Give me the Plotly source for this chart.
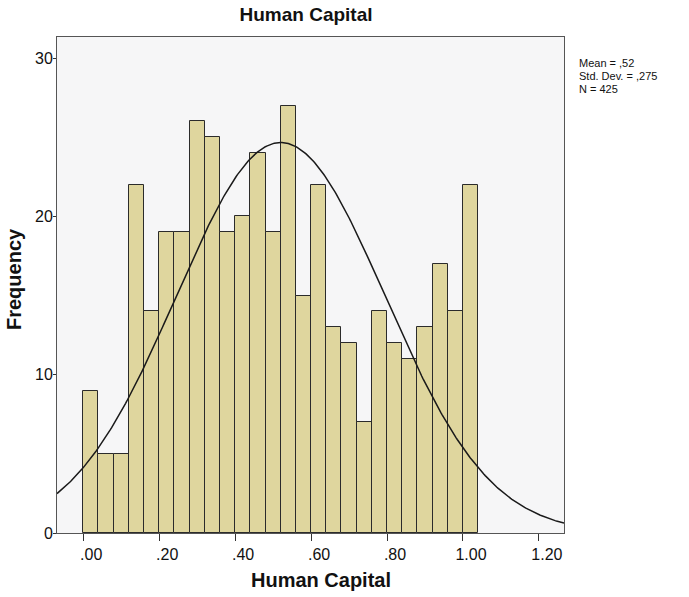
import numpy as np
import plotly.graph_objects as go

# Histogram data (bins of width 0.04 starting at 0.00)
bin_start = 0.0
bin_width = 0.04
counts = [9, 5, 5, 22, 14, 19, 19, 26, 25, 19, 20, 24, 19, 27, 15, 22,
          13, 12, 7, 14, 12, 11, 13, 17, 14, 22]

# Normal curve parameters (from SPSS summary)
mean = 0.52
std_dev = 0.275
n_total = 425

x_tickvals = [0.0, 0.2, 0.4, 0.6, 0.8, 1.0, 1.2]
x_ticktext = [".00", ".20", ".40", ".60", ".80", "1.00", "1.20"]
y_tickvals = [0, 10, 20, 30]
stats_lines = ["Mean = ,52", "Std. Dev. = ,275", "N = 425"]

x_range = [-0.069, 1.266]
y_range = [0, 31.33]

centers = [bin_start + bin_width * (i + 0.5) for i in range(len(counts))]

xc = np.linspace(x_range[0], x_range[1], 400)
yc = n_total * bin_width / (std_dev * np.sqrt(2 * np.pi)) * np.exp(-0.5 * ((xc - mean) / std_dev) ** 2)

W, H = 689, 597
L, R, T, B = 57, 564, 37, 533  # plot frame in page pixels

fig = go.Figure()
fig.add_trace(go.Bar(
    x=centers, y=counts, width=bin_width,
    marker=dict(color="#DFD69E", line=dict(color="#2b2b2b", width=1)),
    showlegend=False, hoverinfo="x+y",
))
fig.add_trace(go.Scatter(
    x=xc, y=yc, mode="lines",
    line=dict(color="#1a1a1a", width=1.5),
    showlegend=False, hoverinfo="skip",
))

fig.update_layout(
    width=W, height=H,
    margin=dict(l=L, r=W - R, t=T, b=H - B),
    paper_bgcolor="white",
    plot_bgcolor="#F6F6F7",
    font=dict(family="Liberation Sans, Arial, sans-serif", color="#111111", size=13),
    title=dict(text="<b>Human Capital</b>", x=306 / W, xanchor="center",
               xref="container", yref="container", y=1 - 14 / H, yanchor="middle",
               font=dict(size=19)),
    bargap=0,
)
fig.update_xaxes(
    range=x_range, tickvals=x_tickvals, ticktext=x_ticktext,
    ticks="outside", ticklen=7, tickcolor="#333333",
    showline=True, mirror=True, linecolor="#555555", linewidth=1,
    showgrid=False, zeroline=False, automargin=False,
    ticklabelshift=8,
    tickfont=dict(size=16),
)
fig.update_yaxes(
    range=y_range, tickvals=y_tickvals,
    ticks="outside", ticklen=3, tickcolor="#333333",
    showline=True, mirror=True, linecolor="#555555", linewidth=1,
    showgrid=False, zeroline=False, automargin=False,
    ticklabelstandoff=-3,
    tickfont=dict(size=16),
)

pw, ph = R - L, B - T
def px(x):
    return (x - L) / pw
def py(y):
    return (B - y) / ph

# axis titles
fig.add_annotation(
    xref="paper", yref="paper", x=px(321), y=py(580),
    xanchor="center", yanchor="middle", showarrow=False,
    text="<b>Human Capital</b>", font=dict(size=20),
)
fig.add_annotation(
    xref="paper", yref="paper", x=px(14), y=py(279),
    xanchor="center", yanchor="middle", showarrow=False, textangle=-90,
    text="<b>Frequency</b>", font=dict(size=20),
)

for i, line in enumerate(stats_lines):
    fig.add_annotation(
        xref="paper", yref="paper", x=px(578), y=py(63 + 13 * i),
        xanchor="left", yanchor="middle", borderpad=0,
        text=line, showarrow=False, align="left",
        font=dict(size=11, color="#111111"),
    )

fig.write_html(
    "out.html",
    config={"displayModeBar": False},
    post_script="document.body.style.margin='0';document.body.style.overflow='hidden';",
)
